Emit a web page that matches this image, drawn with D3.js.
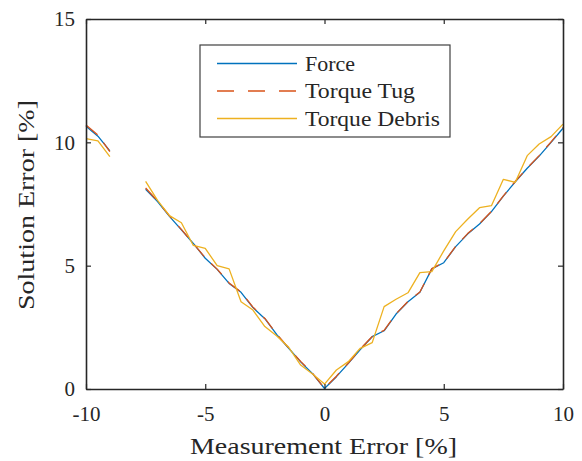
<!DOCTYPE html>
<html>
<head>
<meta charset="utf-8">
<script src="https://cdn.jsdelivr.net/npm/d3@7"></script>
<style>
  html, body { margin: 0; padding: 0; background: #fff; }
  svg { display: block; }
  text { font-family: "Liberation Serif", serif; fill: #262626; }
</style>
</head>
<body>
<svg id="chart" width="582" height="461"></svg>
<script>
// Measurement error levels (%), sampled every 0.5 %; null marks missing runs
const measurementError = [-10,-9.5,-9,-8.5,-8,-7.5,-7,-6.5,-6,-5.5,-5,-4.5,-4,-3.5,-3,-2.5,-2,-1.5,-1,-0.5,
  0,0.5,1,1.5,2,2.5,3,3.5,4,4.5,5,5.5,6,6.5,7,7.5,8,8.5,9,9.5,10];

const forceError = [10.65,10.25,9.65,null,null,8.1,7.6,7.0,6.45,5.9,5.3,4.85,4.28,3.92,3.3,2.85,2.2,1.65,1.1,0.62,
  0.02,0.5,1.04,1.6,2.12,2.36,3.04,3.54,3.92,4.87,5.12,5.77,6.28,6.69,7.19,7.82,8.4,8.95,9.44,10.0,10.57];

const torqueTugError = [10.7,10.3,9.62,null,null,8.15,7.62,7.02,6.47,5.9,5.32,4.86,4.3,3.93,3.32,2.86,2.22,1.66,1.12,0.63,
  0.03,0.52,1.05,1.62,2.13,2.38,3.05,3.55,3.93,4.88,5.13,5.78,6.3,6.7,7.2,7.83,8.42,8.96,9.46,10.02,10.6];

const torqueDebrisError = [10.15,10.06,9.42,null,null,8.42,7.65,7.03,6.74,5.82,5.7,5.0,4.87,3.54,3.2,2.53,2.15,1.69,0.97,0.61,
  0.2,0.77,1.11,1.65,1.88,3.34,3.64,3.9,4.72,4.76,5.6,6.38,6.88,7.35,7.43,8.5,8.38,9.46,9.93,10.23,10.74];

const seriesNames = ["Force", "Torque Tug", "Torque Debris"];
const xTicks = [-10, -5, 0, 5, 10];
const yTicks = [0, 5, 10, 15];

const series = [
  { name: seriesNames[0], values: forceError, color: "#0072BD", dash: null, labelLen: 50 },
  { name: seriesNames[1], values: torqueTugError, color: "#D95319", dash: "15,10", labelLen: 110 },
  { name: seriesNames[2], values: torqueDebrisError, color: "#EDB120", dash: null, labelLen: 135 }
];

const svg = d3.select("#chart");
const margin = { left: 86, right: 19, top: 19, bottom: 72 };
const W = 582, H = 461;
const fontFamily = '"Liberation Serif", serif';

const x = d3.scaleLinear().domain([-10, 10]).range([margin.left, W - margin.right]);
const y = d3.scaleLinear().domain([0, 15]).range([H - margin.bottom, margin.top]);

const axisColor = "#262626";
const tickLen = 5;

// Data lines
const line = d3.line()
  .defined(d => d[1] != null)
  .x(d => x(d[0]))
  .y(d => y(d[1]));

series.forEach(s => {
  const pts = measurementError.map((m, i) => [m, s.values[i]]);
  svg.append("path")
    .attr("d", line(pts))
    .attr("fill", "none")
    .attr("stroke", s.color)
    .attr("stroke-width", 1.3)
    .attr("stroke-dasharray", s.dash)
    .attr("stroke-linejoin", "round");
});

// Axes: bottom/left with labels, top/right as plain box edges, ticks pointing inward
const gx = svg.append("g").attr("transform", `translate(0,${y(0)})`)
  .call(d3.axisBottom(x).tickValues(xTicks).tickSize(-tickLen).tickPadding(17).tickSizeOuter(0));
const gxt = svg.append("g").attr("transform", `translate(0,${y(15)})`)
  .call(d3.axisTop(x).tickValues(xTicks).tickSize(-tickLen).tickFormat("").tickSizeOuter(0));
const gy = svg.append("g").attr("transform", `translate(${x(-10)},0)`)
  .call(d3.axisLeft(y).tickValues(yTicks).tickSize(-tickLen).tickPadding(11).tickSizeOuter(0));
const gyr = svg.append("g").attr("transform", `translate(${x(10)},0)`)
  .call(d3.axisRight(y).tickValues(yTicks).tickSize(-tickLen).tickFormat("").tickSizeOuter(0));

[gx, gxt, gy, gyr].forEach(g => {
  g.attr("font-family", fontFamily);
  g.select(".domain").attr("stroke", axisColor).attr("stroke-width", 1.6);
  g.selectAll(".tick line").attr("stroke", axisColor).attr("stroke-width", 1.2);
  g.selectAll(".tick text")
    .attr("font-family", fontFamily)
    .attr("font-size", 21)
    .attr("fill", axisColor);
});
gx.selectAll(".tick text").text(d => d < 0 ? "-" + Math.abs(d) : d);

// Axis titles
svg.append("text")
  .attr("x", x(0) - 1).attr("y", 454)
  .attr("text-anchor", "middle")
  .attr("font-family", fontFamily)
  .attr("textLength", 267).attr("lengthAdjust", "spacingAndGlyphs")
  .attr("font-size", 24)
  .text("Measurement Error [%]");

svg.append("text")
  .attr("transform", `translate(34,${(y(0) + y(15)) / 2 + 1}) rotate(-90)`)
  .attr("text-anchor", "middle")
  .attr("font-family", fontFamily)
  .attr("textLength", 210).attr("lengthAdjust", "spacingAndGlyphs")
  .attr("font-size", 24)
  .text("Solution Error [%]");

// Legend
const lg = svg.append("g");
lg.append("rect")
  .attr("x", 200).attr("y", 45).attr("width", 250).attr("height", 92)
  .attr("fill", "#fff").attr("stroke", "#404040").attr("stroke-width", 1.2);

series.forEach((s, i) => {
  const ly = 63.5 + i * 27.5;
  lg.append("line")
    .attr("x1", 217).attr("x2", 297).attr("y1", ly).attr("y2", ly)
    .attr("stroke", s.color).attr("stroke-width", 1.3)
    .attr("stroke-dasharray", s.dash ? "17,14" : null);
  lg.append("text")
    .attr("x", 305).attr("y", ly).attr("dy", "0.35em")
    .attr("font-family", fontFamily)
    .attr("textLength", s.labelLen).attr("lengthAdjust", "spacingAndGlyphs")
    .attr("font-size", 20)
    .text(s.name);
});
</script>
</body>
</html>
